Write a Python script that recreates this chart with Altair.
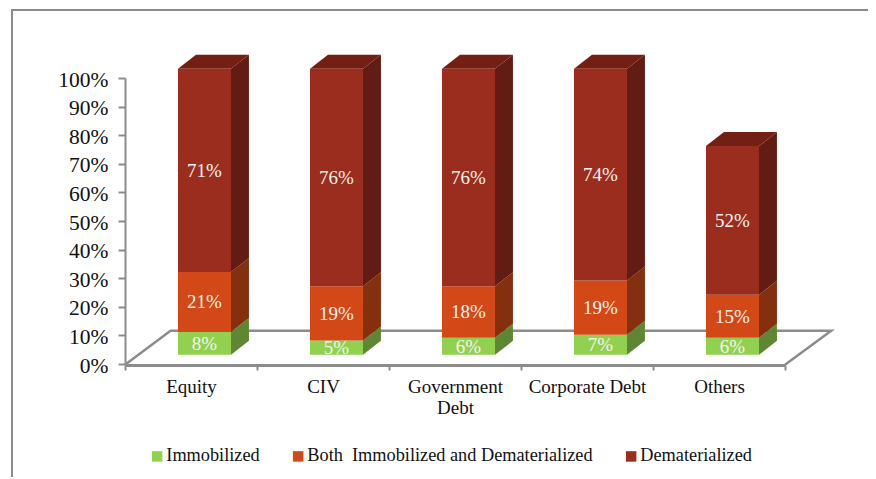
import altair as alt
import pandas as pd

categories = ["Equity", "CIV", "Government Debt", "Corporate Debt", "Others"]
series = ["Immobilized", "Both\u00a0 Immobilized and Dematerialized", "Dematerialized"]
immobilized = [8, 5, 6, 7, 6]
both = [21, 19, 18, 19, 15]
demat = [71, 76, 76, 74, 52]
front_colors = ["#92d050", "#d34817", "#9b2d1f"]
side_colors = ["#5f8733", "#84300f", "#631c13"]
top_color = "#741f14"
line_color = "#8c8c8c"
FONT = "Liberation Serif"

# geometry of the pseudo-3D box, in data units of the hidden scales
BASE = 3.2
DY = 4.9
LEFT = 0.4015
BAR_W = 0.4015
DX = 0.136

front, side, tops, labels = [], [], [], []
for i, cat in enumerate(categories):
    cum = BASE
    for s, vals in zip(series, (immobilized, both, demat)):
        v = vals[i]
        l, r = i + LEFT, i + LEFT + BAR_W
        lo, hi = cum, cum + v
        front.append(dict(series=s, x=l, x2=r, y=lo, y2=hi))
        key = f"{i}-{s}"
        side.append(dict(key=key, series=s, x=r, y=lo, y2=hi))
        side.append(dict(key=key, series=s, x=r + DX, y=lo + DY, y2=hi + DY))
        labels.append(dict(x=(l + r) / 2, y=(lo + hi) / 2 - 0.1, text=f"{v}%"))
        cum = hi
    tops.append(dict(key=i, y=cum, x=i + LEFT, x2=i + LEFT + BAR_W))
    tops.append(dict(key=i, y=cum + DY, x=i + LEFT + DX, x2=i + LEFT + BAR_W + DX))

floor = pd.DataFrame([
    dict(o=0, x=0.0, y=-0.3),
    dict(o=1, x=0.345, y=11.6),
    dict(o=2, x=5.35, y=11.6),
    dict(o=3, x=5.0, y=-0.3),
])

xq = alt.X("x:Q", scale=alt.Scale(domain=[0, 5], nice=False, zero=False), axis=None)
yq = alt.Y(
    "y:Q",
    scale=alt.Scale(domain=[0, 100], nice=False),
    axis=alt.Axis(
        values=list(range(0, 101, 10)), labelExpr="datum.value + '%'",
        grid=False, title=None, labelFont=FONT, labelFontSize=21.5, labelColor="#111111",
        domainColor=line_color, domainWidth=2, tickColor=line_color, tickWidth=2,
        tickSize=7, labelPadding=10, labelOffset=2,
    ),
)
color = alt.Color(
    "series:N",
    scale=alt.Scale(domain=series, range=front_colors),
    sort=series,
    legend=alt.Legend(
        title=None, orient="none", legendX=23, legendY=369, direction="horizontal", columns=3,
        symbolType="square", symbolSize=110, symbolStrokeWidth=0, labelFont=FONT,
        labelFontSize=18.3, labelColor="#111111", columnPadding=29, labelOffset=0, labelLimit=400,
    ),
)

axis_layer = alt.Chart(pd.DataFrame({"cat": categories})).mark_rule(opacity=0).encode(
    x=alt.X(
        "cat:N", sort=categories,
        scale=alt.Scale(paddingInner=0, paddingOuter=0),
        axis=alt.Axis(
            title=None, labelAngle=0, labelFont=FONT, labelFontSize=19, labelColor="#111111",
            tickBand="extent", domainColor=line_color, domainWidth=3, tickColor=line_color,
            tickWidth=2, tickSize=5, labelPadding=7, labelBaseline="top", offset=1,
            labelExpr="datum.label == 'Government Debt' ? ['Government', 'Debt'] : datum.label",
        ),
    )
)

frame_left = alt.Chart(pd.DataFrame({"a": [0]})).mark_rule(color=line_color, strokeWidth=2).encode(
    x=alt.value(-113), y=alt.value(-68), y2=alt.value(401)
)
frame_top = alt.Chart(pd.DataFrame({"a": [0]})).mark_rule(color=line_color, strokeWidth=2).encode(
    y=alt.value(-68), x=alt.value(-114), x2=alt.value(743)
)

floor_layer = alt.Chart(floor).mark_line(color=line_color, strokeWidth=2.5).encode(
    x=xq, y=yq, order="o:Q"
)
side_layer = alt.Chart(pd.DataFrame(side)).mark_area(orient="vertical").encode(
    x=xq, y=yq, y2="y2:Q", detail="key:N",
    fill=alt.Fill("series:N", scale=alt.Scale(domain=series, range=side_colors), legend=None),
)
top_layer = alt.Chart(pd.DataFrame(tops)).mark_area(orient="horizontal", color=top_color).encode(
    y=yq, x=xq, x2="x2:Q", detail="key:N"
)
front_layer = alt.Chart(pd.DataFrame(front)).mark_rect().encode(
    x=xq, x2="x2:Q", y=yq, y2="y2:Q", color=color
)
label_layer = alt.Chart(pd.DataFrame(labels)).mark_text(
    font=FONT, fontSize=19, color="#f4f4ee"
).encode(x=xq, y=yq, text="text:N")

marks = alt.layer(floor_layer, side_layer, top_layer, front_layer, label_layer).resolve_scale(
    color="independent", fill="independent"
)
chart = (
    alt.layer(frame_left, frame_top, axis_layer, marks)
    .resolve_scale(x="independent")
    .properties(
        width=660, height=286,
        autosize=alt.AutoSizeParams(type="none"),
        padding={"left": 117, "top": 70, "right": 83, "bottom": 113},
    )
    .configure_view(stroke=None)
)
chart.save("out.html", embed_options={"renderer": "svg", "actions": False})
